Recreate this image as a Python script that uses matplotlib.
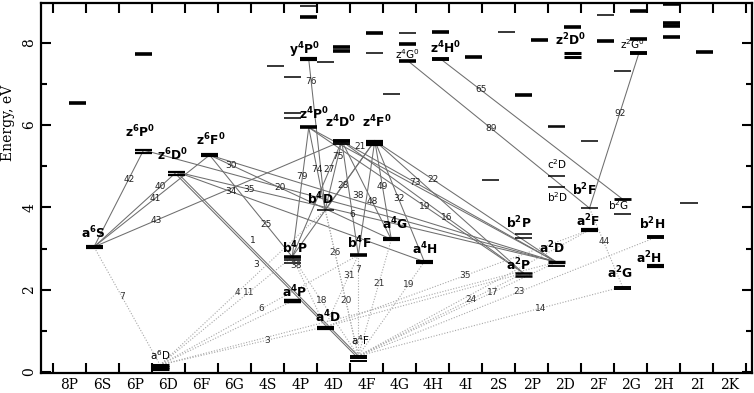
import matplotlib.pyplot as plt

columns = ['8P', '6S', '6P', '6D', '6F', '6G', '4S', '4P', '4D', '4F', '4G',
           '4H', '4I', '2S', '2P', '2D', '2F', '2G', '2H', '2I', '2K']

# named terms; even terms sit in the left half of a column, odd (z, y) in the right half
term_names = ['a6S', 'a6D', 'b4P', 'a4P', 'b4D', 'a4D', 'a4F', 'b4F', 'a4G', 'a4H',
              'b2P', 'a2P', 'a2D', 'c2D', 'b2D', 'b2F', 'a2F', 'b2G', 'a2G', 'b2H', 'a2H',
              'z6P0', 'z6D0', 'z6F0', 'y4P0', 'z4P0', 'z4D0', 'z4F0', 'z4G0', 'z4H0',
              'z2D0', 'z2G0']
term_cols = ['6S', '6D', '4P', '4P', '4D', '4D', '4F', '4F', '4G', '4H',
             '2P', '2P', '2D', '2D', '2D', '2F', '2F', '2G', '2G', '2H', '2H',
             '6P', '6D', '6F', '4P', '4P', '4D', '4F', '4G', '4H', '2D', '2G']
term_energy = [[3.04], [0.17, 0.13, 0.07], [2.80, 2.71, 2.64], [1.72], [3.94],
               [1.10, 1.05], [0.39, 0.33, 0.27], [2.84], [3.22], [2.68],
               [3.35, 3.26], [2.40, 2.33], [2.67, 2.58], [4.76], [4.50], [3.98],
               [3.45], [4.20, 3.84], [2.07, 2.01], [3.27], [2.58],
               [5.39, 5.33], [4.86, 4.79], [5.27], [7.60], [5.94], [5.61, 5.53],
               [5.62, 5.57, 5.52], [7.56], [7.60], [7.74, 7.66], [7.76]]

# unnamed levels
other_cols = ['8P', '6P', '4S', '4P', '4P', '4P', '4P', '4P', '4D', '4D', '4D',
              '4F', '4F', '4G', '4G', '4G', '4H', '4I', '2S', '2S', '2P', '2P',
              '2D', '2D', '2D', '2F', '2F', '2F', '2G', '2G', '2G', '2H', '2H',
              '2H', '2H', '2I', '2I']
other_odd = [1, 1, 1, 0, 0, 0, 1, 1, 0, 1, 1,
             1, 1, 0, 1, 1, 1, 1, 0, 1, 0, 1,
             0, 0, 1, 0, 1, 1, 0, 1, 1, 1, 1,
             1, 1, 0, 1]
other_energy = [6.53, 7.73, 7.43, 7.16, 6.29, 6.16, 8.90, 8.63, 7.53, 7.90, 7.80,
                8.24, 7.74, 6.75, 8.23, 7.97, 8.27, 7.66, 4.67, 8.25, 6.73, 8.07,
                5.98, 5.94, 8.37, 5.61, 8.67, 8.03, 7.31, 8.77, 8.08, 8.94, 8.47,
                8.41, 8.15, 4.10, 7.78]

# permitted transitions: upper, lower, multiplet number
perm_upper = ['z6P0', 'z6D0', 'z6F0', 'z4D0', 'z6F0', 'z6D0', 'z6D0', 'z6P0', 'z6F0',
              'z6D0', 'z6D0', 'z4P0', 'z4P0', 'z4D0', 'z4D0', 'z4F0', 'z4F0', 'z4D0',
              'z4D0', 'z4F0', 'z4F0', 'z4F0', 'z4D0', 'z4D0', 'z4P0', 'z4P0', 'z4F0',
              'z4F0', 'y4P0', 'z4G0', 'z4H0', 'z2G0', 'z6F0']
perm_lower = ['a6S', 'a6S', 'a6S', 'a6S', 'a4G', 'a4H', 'a2D', 'a2D', 'b4P',
              'a4F', 'a4F', 'b4P', 'b4D', 'b4P', 'b4D', 'b4P', 'b4F', 'b4F',
              'a4G', 'a4G', 'a4H', 'a2D', 'a2D', 'a2P', 'a2P', 'a2D', 'a2P',
              'b4D', 'b4D', 'b2F', 'b2G', 'b2F', 'a2D']
perm_mult = ['42', '40', '41', '43', '30', '34', '35', '20', '25',
             '1', '3', '79', '74', '27', '75', '28', '38', '6',
             '48', '49', '32', '22', '73', '16', '19', '', '',
             '21', '76', '89', '65', '92', '']

# forbidden transitions
forb_upper = ['a6S', 'b4D', 'b4P', 'b4F', 'a4D', 'a4P', 'b4F', 'a4G', 'a4H', 'b4D',
              'b4D', 'b4P', 'b4F', 'a2F', 'a2P', 'a2D', 'b2H', 'a2G', 'b2F', 'b4P',
              'a2D', 'a2P', 'a2F']
forb_lower = ['a6D', 'a6D', 'a6D', 'a6D', 'a6D', 'a6D', 'a4F', 'a4F', 'a4F', 'a4F',
              'a4F', 'a4F', 'a4D', 'a4D', 'a4F', 'a4F', 'a4F', 'a4F', 'a2G', 'a4D',
              'a6D', 'a4D', 'a4F']
forb_mult = ['7', '4', '11', '6', '3', '', '7', '21', '19', '26',
             '20', '18', '31', '35', '24', '17', '23', '14', '44', '38',
             '', '', '']

# where the number sits along each line (0 = lower level, 1 = upper level)
perm_t = [0.70, 0.80, 0.53, 0.25, 0.88, 0.78, 0.81, 0.67, 0.32,
          0.60, 0.52, 0.62, 0.49, 0.75, 0.77, 0.61, 0.52, 0.36,
          0.39, 0.54, 0.52, 0.68, 0.66, 0.42, 0.46, 0.5, 0.5,
          0.91, 0.85, 0.54, 0.78, 0.61, 0.5]
forb_t = [0.58, 0.47, 0.67, 0.51, 0.65, 0.5, 0.86, 0.62, 0.76, 0.71,
          0.38, 0.56, 0.72, 0.53, 0.68, 0.68, 0.54, 0.69, 0.57, 0.88,
          0.5, 0.5, 0.5]
# numbers nudged off their line, in pixels (right, up)
perm_nudge = {'38': (-9, 0), '1': (4, 5), '3': (-8, -2), '21': (-10, 0)}

level_lw = {'a6S': [3], 'a6D': [2.2, 2.2, 2.2], 'b4P': [2.6, 1.1, 1.1], 'a4P': [3.2],
            'b4D': [1.1], 'a4D': [1.6, 1.6], 'a4F': [1.4, 1.4, 1.4], 'b4F': [2.6],
            'a4G': [3], 'a4H': [3], 'b2P': [1.1, 1.1], 'a2P': [1.8, 1.8],
            'a2D': [2.4, 1.3], 'c2D': [1.1], 'b2D': [1.1], 'b2F': [1.1], 'a2F': [3],
            'b2G': [2, 1.1], 'a2G': [1.4, 1.4], 'b2H': [2.8], 'a2H': [3],
            'z6P0': [1.6, 1.6], 'z6D0': [1.6, 1.6], 'z6F0': [3], 'y4P0': [3],
            'z4P0': [2.6], 'z4D0': [2.8, 1.3], 'z4F0': [1.6, 1.6, 1.6], 'z4G0': [2.6],
            'z4H0': [2.8], 'z2D0': [2.2, 2.2], 'z2G0': [2.8]}
other_heavy = [1, 1, 0, 0, 0, 0, 0, 1, 0, 1, 1,
               1, 0, 0, 0, 1, 1, 1, 0, 0, 1, 1,
               0, 0, 1, 0, 0, 1, 0, 1, 1, 1, 1,
               1, 1, 0, 1]
# label offsets from the level centre, in pixels (right, up)
label_off = {'a6S': (-1, 14), 'a6D': (0, 10), 'b4P': (3, 9), 'a4P': (2, 9),
             'b4D': (-5, 11), 'a4D': (3, 10), 'a4F': (2, 16), 'b4F': (1, 12),
             'a4G': (4, 15), 'a4H': (1, 13), 'b2P': (-5, 11), 'a2P': (-5, 8),
             'a2D': (-4, 14), 'c2D': (1, 12), 'b2D': (1, -10), 'b2F': (-5, 18),
             'a2F': (-2, 9), 'b2G': (-4, -6), 'a2G': (-3, 14), 'b2H': (-3, 13),
             'a2H': (-7, 8), 'z6P0': (-4, 18), 'z6D0': (-4, 17), 'z6F0': (1, 15),
             'y4P0': (-4, 9), 'z4P0': (5, 13), 'z4D0': (-1, 19), 'z4F0': (2, 19),
             'z4G0': (0, 7), 'z4H0': (5, 11), 'z2D0': (-2, 13), 'z2G0': (-7, 8)}
light_labels = ['a6D', 'z4G0', 'z2G0', 'b2D', 'b2G', 'a4F', 'c2D']

fig = plt.figure(figsize=(7.54, 3.93), dpi=100)
ax = fig.add_axes([0.0544, 0.0517, 0.943, 0.9407])

col_index = {c: i for i, c in enumerate(columns)}
energy = dict(zip(term_names, term_energy))
column = dict(zip(term_names, term_cols))


def is_odd(name):
    return name[0] in 'yz'


def anchor(name):
    x = col_index[column[name]] + (0.75 if is_odd(name) else 0.25)
    return x, energy[name][0]


# transitions
for up, lo, m, t in zip(perm_upper, perm_lower, perm_mult, perm_t):
    x1, y1 = anchor(up)
    x0, y0 = anchor(lo)
    if m == '3':
        y1, y0 = energy[up][1], energy[lo][1]
    ax.plot([x0, x1], [y0, y1], color='#6e6e6e', lw=0.75, zorder=1)
    if m:
        dx, dy = perm_nudge.get(m, (0, 0))
        ax.annotate(m, (x0 + t * (x1 - x0), y0 + t * (y1 - y0)),
                    xytext=(dx * 0.72, dy * 0.72), textcoords='offset points',
                    fontsize=6.5, ha='center', va='center', color='#222222', zorder=4)

for up, lo, m, t in zip(forb_upper, forb_lower, forb_mult, forb_t):
    x1, y1 = anchor(up)
    x0, y0 = anchor(lo)
    ax.plot([x0, x1], [y0, y1], color='#a8a8a8', lw=0.8, ls=(0, (1, 1.5)), zorder=1)
    if m:
        ax.text(x0 + t * (x1 - x0), y0 + t * (y1 - y0), m, fontsize=6.5,
                ha='center', va='center', color='#333333', zorder=4)

# levels
for name in term_names:
    left = col_index[column[name]] + (0.48 if is_odd(name) else 0.0)
    for e, lw in zip(energy[name], level_lw[name]):
        ax.plot([left, left + 0.52], [e, e], color='k', lw=lw,
                solid_capstyle='butt', zorder=3)

for c, odd, e, heavy in zip(other_cols, other_odd, other_energy, other_heavy):
    left = col_index[c] + (0.48 if odd else 0.0)
    ax.plot([left, left + 0.52], [e, e], color='k', lw=2.6 if heavy else 1.1,
            solid_capstyle='butt', zorder=3)

# term labels
for name in term_names:
    x, y = anchor(name)
    dx, dy = label_off[name]
    if name in light_labels:
        txt = name[0] + '$^{' + name[1] + '}$' + name[2]
        if len(name) > 3:
            txt += '$^{0}$'
        ax.annotate(txt, (x, y), xytext=(dx * 0.72, dy * 0.72),
                    textcoords='offset points', ha='center', va='center',
                    fontsize=7.5, zorder=5)
    else:
        txt = name[0] + r'$^\mathbf{' + name[1] + '}$' + name[2]
        if len(name) > 3:
            txt += r'$^\mathbf{0}$'
        ax.annotate(txt, (x, y), xytext=(dx * 0.72, dy * 0.72),
                    textcoords='offset points', ha='center', va='center',
                    fontsize=8.8, fontweight='bold', zorder=5)

ax.set_xlim(-0.354, 21.17)
ax.set_ylim(-0.017, 8.965)

ax.set_xticks(range(len(columns) + 1))
ax.set_xticklabels([])
ax.set_xticks([i + 0.5 for i in range(len(columns))], minor=True)
ax.set_xticklabels(columns, minor=True, family='DejaVu Serif', fontsize=10)
ax.tick_params(axis='x', which='minor', length=0, pad=4)
ax.tick_params(axis='x', which='major', direction='in', length=7, width=1.5,
               top=True, bottom=True)

ax.set_yticks([0, 2, 4, 6, 8])
ax.set_yticks([1, 3, 5, 7], minor=True)
ax.set_yticklabels(['0', '2', '4', '6', '8'], rotation=90, va='center',
                   family='DejaVu Serif', fontsize=10)
ax.tick_params(axis='y', which='major', direction='in', length=7, width=1.5,
               left=True, right=True)
ax.tick_params(axis='y', which='minor', direction='in', length=4.5, width=1.5,
               left=True, right=True)

ax.set_ylabel('Energy, eV', family='DejaVu Serif', fontsize=10)
ax.yaxis.set_label_coords(-0.037, 0.675)

for s in ax.spines.values():
    s.set_linewidth(1.6)

fig.savefig('out.png', dpi=100)
